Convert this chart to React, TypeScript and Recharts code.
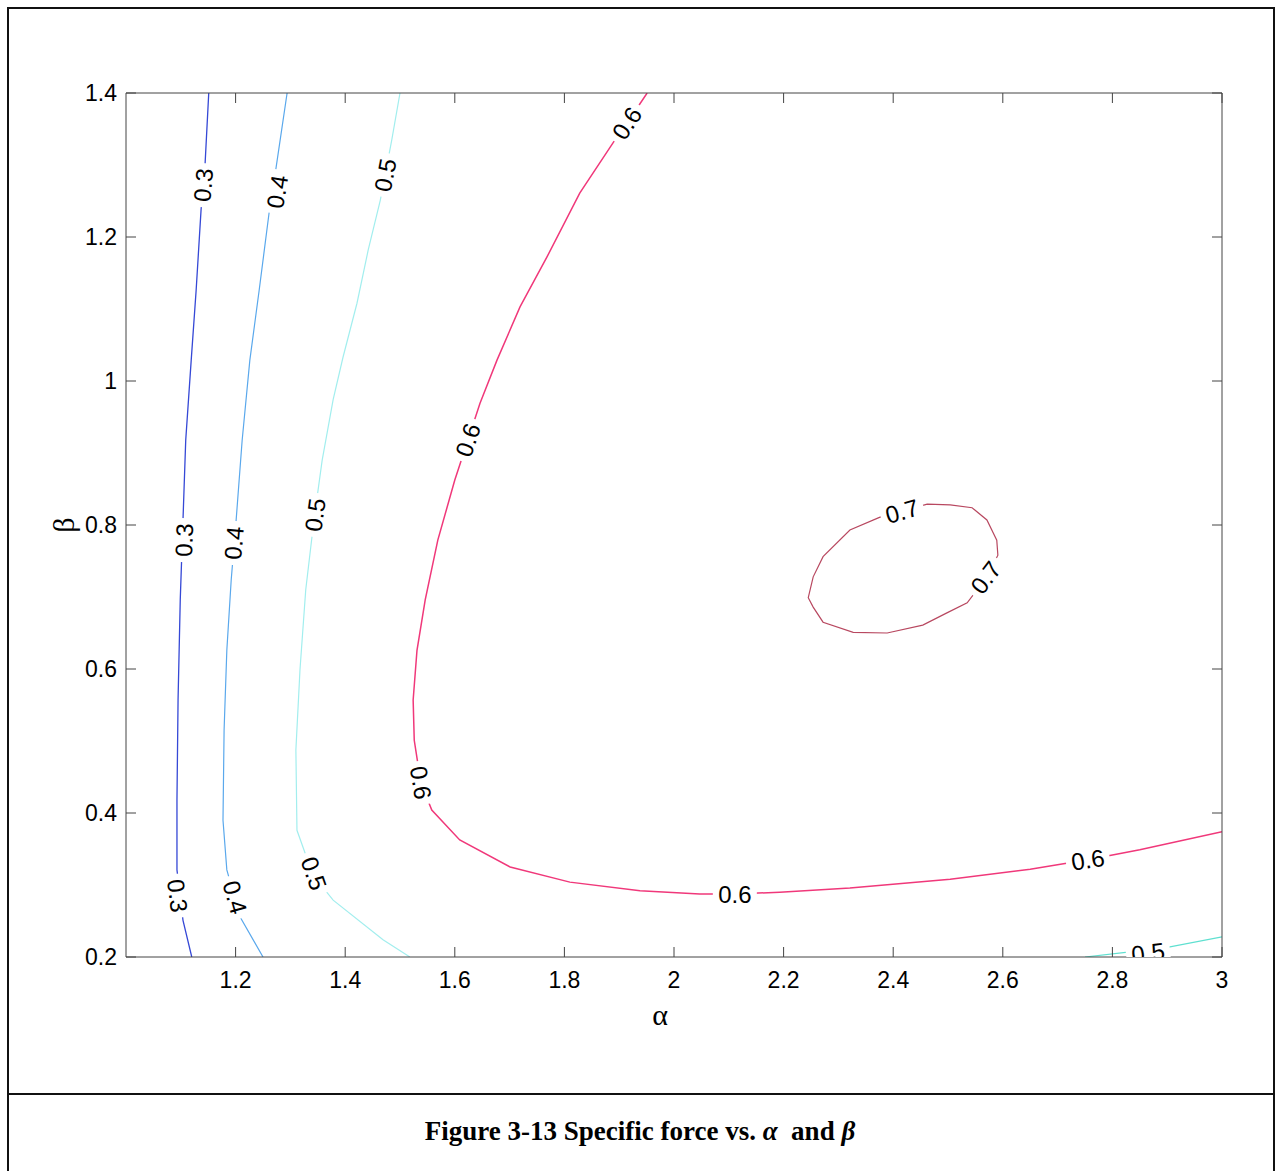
import React from 'react';
import { ComposedChart, Line, Scatter, XAxis, YAxis } from 'recharts';

// axis ticks
const alphaTicks = [1.2, 1.4, 1.6, 1.8, 2, 2.2, 2.4, 2.6, 2.8, 3];
const betaTicks = [0.2, 0.4, 0.6, 0.8, 1, 1.2, 1.4];

// contour paths, points are [alpha, beta]
const level03: [number, number][] = [
    [1.151, 1.4], [1.144, 1.297], [1.137, 1.238], [1.128, 1.126], [1.119, 1.029],
    [1.109, 0.918], [1.104, 0.807], [1.099, 0.696], [1.095, 0.557], [1.093, 0.418],
    [1.093, 0.321], [1.104, 0.251], [1.12, 0.2],
];
const level04: [number, number][] = [
    [1.294, 1.4], [1.274, 1.297], [1.261, 1.233], [1.243, 1.126], [1.226, 1.029],
    [1.212, 0.918], [1.201, 0.807], [1.192, 0.724], [1.184, 0.626], [1.179, 0.515],
    [1.177, 0.39], [1.184, 0.321], [1.208, 0.256], [1.25, 0.2],
];
const level05left: [number, number][] = [
    [1.5, 1.4], [1.485, 1.335], [1.464, 1.251], [1.442, 1.182], [1.4215, 1.108],
    [1.396, 1.033], [1.378, 0.974], [1.358, 0.89], [1.343, 0.807], [1.328, 0.71],
    [1.3175, 0.599], [1.31, 0.4875], [1.312, 0.376], [1.341, 0.314], [1.378, 0.279],
    [1.469, 0.224], [1.518, 0.2],
];
const level05right: [number, number][] = [
    [2.75, 0.2], [2.832, 0.207], [2.905, 0.214], [3, 0.228],
];
const level06: [number, number][] = [
    [1.951, 1.4], [1.914, 1.358], [1.889, 1.331], [1.828, 1.261], [1.768, 1.172],
    [1.719, 1.103], [1.677, 1.029], [1.646, 0.969], [1.624, 0.918], [1.6, 0.8625],
    [1.569, 0.779], [1.546, 0.696], [1.531, 0.626], [1.524, 0.557], [1.526, 0.501],
    [1.538, 0.442], [1.558, 0.404], [1.609, 0.3625], [1.701, 0.325], [1.81, 0.304],
    [1.938, 0.292], [2.047, 0.2875], [2.111, 0.2875], [2.193, 0.29], [2.321, 0.296],
    [2.504, 0.308], [2.65, 0.322], [2.755, 0.335], [2.85, 0.349], [3, 0.374],
];
const level07: [number, number][] = [
    [2.376, 0.811], [2.321, 0.793], [2.272, 0.756], [2.254, 0.728], [2.245, 0.699],
    [2.254, 0.686], [2.272, 0.665], [2.327, 0.651], [2.389, 0.65], [2.454, 0.661],
    [2.498, 0.678], [2.535, 0.692], [2.571, 0.728], [2.591, 0.758], [2.589, 0.779],
    [2.571, 0.807], [2.544, 0.824], [2.504, 0.828], [2.462, 0.829], [2.416, 0.819],
    [2.376, 0.811],
];

// contour label anchors: [alpha, beta]
const labels03: [number, number][] = [[1.141, 1.272], [1.106, 0.779], [1.094, 0.285]];
const labels04: [number, number][] = [[1.276, 1.263], [1.197, 0.775], [1.199, 0.283]];
const labels05left: [number, number][] = [[1.473, 1.286], [1.345, 0.814], [1.343, 0.316]];
const labels05right: [number, number][] = [[2.865, 0.206]];
const labels06: [number, number][] = [[1.914, 1.358], [1.624, 0.918], [1.538, 0.442], [2.111, 0.2875], [2.755, 0.335]];
const labels07: [number, number][] = [[2.416, 0.819], [2.569, 0.727]];

const W = 1277;
const H = 1060;
const PLOT = { left: 126, top: 93, right: 1222, bottom: 957 };
const pxA = (PLOT.right - PLOT.left) / 2;
const pxB = (PLOT.bottom - PLOT.top) / 1.2;

const contours = [
    { id: 'c03', text: '0.3', color: '#3548d6', width: 1.3, pts: level03, labels: labels03 },
    { id: 'c04', text: '0.4', color: '#5aa8ec', width: 1.2, pts: level04, labels: labels04 },
    { id: 'c05a', text: '0.5', color: '#a2eeee', width: 1.2, pts: level05left, labels: labels05left },
    { id: 'c05b', text: '0.5', color: '#5fe0d0', width: 1.2, pts: level05right, labels: labels05right },
    { id: 'c06', text: '0.6', color: '#f0387a', width: 1.5, pts: level06, labels: labels06 },
    { id: 'c07', text: '0.7', color: '#b84860', width: 1.2, pts: level07, labels: labels07 },
];

// label rotation follows the nearest segment of its contour, in screen space
function angleAt(pts: [number, number][], a: number, b: number) {
    let best = 0;
    let bestD = Infinity;
    for (let i = 0; i < pts.length - 1; i++) {
        const x1 = pts[i][0] * pxA, y1 = -pts[i][1] * pxB;
        const x2 = pts[i + 1][0] * pxA, y2 = -pts[i + 1][1] * pxB;
        const px = a * pxA, py = -b * pxB;
        const dx = x2 - x1, dy = y2 - y1;
        const t = Math.max(0, Math.min(1, ((px - x1) * dx + (py - y1) * dy) / (dx * dx + dy * dy || 1)));
        const qx = x1 + t * dx - px, qy = y1 + t * dy - py;
        const d = qx * qx + qy * qy;
        if (d < bestD) { bestD = d; best = i; }
    }
    const p = pts[best], q = pts[best + 1];
    let ang = (Math.atan2(-(q[1] - p[1]) * pxB, (q[0] - p[0]) * pxA) * 180) / Math.PI;
    if (ang > 90) ang -= 180;
    if (ang <= -90) ang += 180;
    return ang;
}

const labelData = contours.flatMap((c) =>
    c.labels.map(([a, b]) => ({ a, b, text: c.text, angle: angleAt(c.pts, a, b) }))
);

const fmt = (v: number) => String(Math.round(v * 10) / 10);
const FONT = "'Liberation Sans', Arial, sans-serif";

const ContourLabel = (props: any) => {
    const { cx, cy, payload } = props;
    if (cx == null || cy == null) return null;
    return (
        <g transform={`translate(${cx},${cy}) rotate(${payload.angle})`}>
            <rect x={-22} y={-9} width={44} height={18} fill="#fff" />
            <text x={0} y={0} textAnchor="middle" dominantBaseline="central" fontSize={24} fontFamily={FONT} fill="#000">
                {payload.text}
            </text>
        </g>
    );
};

// tick label renderer for the left and bottom axes
const TickText = (props: any) => {
    const { x, y, payload, textAnchor, orientation } = props;
    const dy = orientation === 'bottom' ? '0.72em' : '0.36em';
    return (
        <text x={x} y={y} dy={dy} textAnchor={textAnchor} fontSize={23} fontFamily={FONT} fill="#000">
            {fmt(payload.value)}
        </text>
    );
};

// top and right axes only carry tick marks
const NoText = () => <g />;

const axisColor = '#444';
const X_AXIS_H = 40;
const Y_AXIS_W = 60;
const SIDE = 10;

export default function App() {
    return (
        <div style={{ position: 'absolute', left: 0, top: 0, width: W, height: 1171, overflow: 'hidden', background: '#fff' }}>
            <div style={{ position: 'absolute', left: 7, top: 7, width: 1264, height: 1200, border: '2px solid #111' }} />
            <div style={{ position: 'absolute', left: 7, top: 1093, width: 1266, height: 0, borderTop: '2px solid #111' }} />

            <div style={{ position: 'absolute', left: 0, top: 0 }}>
                <ComposedChart
                    width={W}
                    height={H}
                    margin={{
                        top: PLOT.top - SIDE,
                        right: W - PLOT.right - SIDE,
                        bottom: H - PLOT.bottom - X_AXIS_H,
                        left: PLOT.left - Y_AXIS_W,
                    }}
                >
                    {contours.map((c) => (
                        <Line
                            key={c.id}
                            data={c.pts.map(([a, b]) => ({ a, b }))}
                            dataKey="b"
                            type="linear"
                            stroke={c.color}
                            strokeWidth={c.width}
                            dot={false}
                            activeDot={false}
                            isAnimationActive={false}
                        />
                    ))}
                    <Scatter data={labelData} dataKey="b" shape={ContourLabel} isAnimationActive={false} />
                    <XAxis
                        dataKey="a"
                        type="number"
                        domain={[1, 3]}
                        allowDataOverflow
                        ticks={alphaTicks}
                        height={X_AXIS_H}
                        tickSize={-10}
                        tickMargin={24}
                        stroke={axisColor}
                        tick={<TickText orientation="bottom" />}
                        interval={0}
                    />
                    <XAxis
                        xAxisId="xTop"
                        dataKey="a"
                        orientation="top"
                        type="number"
                        domain={[1, 3]}
                        allowDataOverflow
                        ticks={alphaTicks}
                        height={SIDE}
                        tickSize={-10}
                        tick={<NoText />}
                        stroke={axisColor}
                        interval={0}
                    />
                    <YAxis
                        dataKey="b"
                        type="number"
                        domain={[0.2, 1.4]}
                        allowDataOverflow
                        ticks={betaTicks}
                        width={Y_AXIS_W}
                        tickSize={-10}
                        tickMargin={19}
                        stroke={axisColor}
                        tick={<TickText orientation="left" />}
                        interval={0}
                    />
                    <YAxis
                        yAxisId="yRight"
                        dataKey="b"
                        orientation="right"
                        type="number"
                        domain={[0.2, 1.4]}
                        allowDataOverflow
                        ticks={betaTicks}
                        width={SIDE}
                        tickSize={-10}
                        tick={<NoText />}
                        stroke={axisColor}
                        interval={0}
                    />
                </ComposedChart>
            </div>

            <div style={{ position: 'absolute', left: 660, top: 1015, transform: 'translate(-50%,-50%)', fontFamily: "'Liberation Serif', serif", fontSize: 30, lineHeight: 1 }}>
                α
            </div>
            <div style={{ position: 'absolute', left: 64, top: 525, transform: 'translate(-50%,-50%) rotate(-90deg)', fontFamily: "'Liberation Serif', serif", fontSize: 30, lineHeight: 1 }}>
                β
            </div>

            <div style={{ position: 'absolute', left: 0, width: 1280, top: 1131, transform: 'translateY(-50%)', textAlign: 'center', fontFamily: "'Liberation Serif', 'Times New Roman', serif", fontWeight: 'bold', fontSize: 27 }}>
                Figure 3-13 Specific force vs. <i>α</i> &nbsp;and <i>β</i>
            </div>
        </div>
    );
}
